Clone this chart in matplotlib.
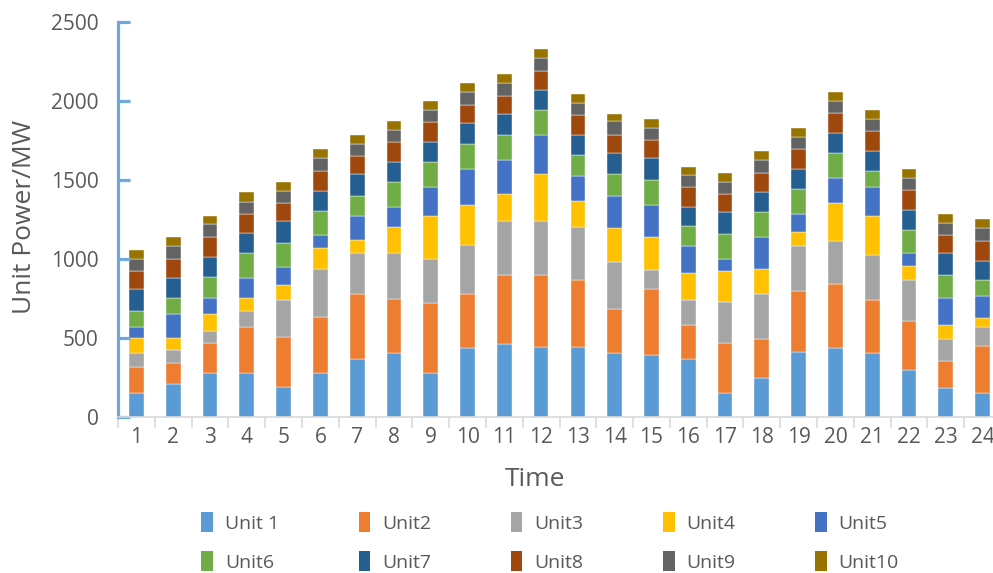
"""Hourly unit dispatch, stacked by generating unit."""

import matplotlib
matplotlib.use("Agg")
import matplotlib.pyplot as plt
from matplotlib.patches import Patch
import numpy as np

hours = list(range(1, 25))
units = ["Unit 1", "Unit2", "Unit3", "Unit4", "Unit5",
         "Unit6", "Unit7", "Unit8", "Unit9", "Unit10"]
colors = ["#5B9BD5", "#ED7D31", "#A5A5A5", "#FFC000", "#4472C4",
          "#70AD47", "#255E91", "#9E480E", "#636363", "#997300"]

# MW per unit for each hour 1..24
unit1 = [154, 209, 276, 276, 188, 276, 367, 403, 276, 435, 460, 445,
         445, 403, 390, 367, 154, 245, 414, 435, 403, 300, 186, 152]
unit2 = [160, 135, 194, 296, 316, 355, 409, 342, 444, 341, 439, 454,
         422, 283, 418, 217, 316, 249, 386, 409, 340, 305, 171, 295]
unit3 = [89, 80, 76, 101, 236, 304, 260, 291, 282, 315, 342, 342,
         338, 293, 124, 159, 260, 282, 280, 272, 282, 262, 134, 125]
unit4 = [99, 78, 104, 78, 95, 135, 82, 169, 272, 251, 170, 295,
         160, 215, 205, 168, 192, 161, 93, 238, 249, 91, 91, 57]
unit5 = [68, 148, 101, 127, 112, 80, 156, 126, 184, 228, 214, 249,
         160, 205, 205, 171, 80, 202, 114, 159, 182, 78, 171, 135]
unit6 = [103, 101, 137, 158, 156, 156, 125, 158, 158, 158, 160, 160,
         133, 137, 160, 125, 158, 158, 158, 158, 101, 148, 146, 101]
unit7 = [135, 127, 127, 127, 137, 126, 137, 127, 123, 133, 135, 125,
         127, 135, 135, 124, 137, 125, 125, 124, 126, 126, 137, 124]
unit8 = [116, 124, 122, 122, 114, 125, 114, 125, 126, 116, 114, 122,
         124, 114, 114, 125, 114, 124, 124, 127, 125, 125, 114, 127]
unit9 = [76, 80, 83, 78, 76, 80, 76, 77, 78, 78, 78, 78,
         78, 88, 78, 78, 78, 79, 80, 78, 78, 78, 80, 78]
unit10 = [57, 59, 54, 59, 59, 57, 59, 57, 57, 59, 59, 59,
          57, 47, 57, 48, 57, 58, 57, 57, 57, 57, 57, 57]

series = [unit1, unit2, unit3, unit4, unit5,
          unit6, unit7, unit8, unit9, unit10]

plt.rcParams["font.family"] = ["Open Sans", "DejaVu Sans"]
text_color = "#595959"
axis_blue = "#6FA8DC"
axis_gray = "#D9D9D9"

fig = plt.figure(figsize=(9.93, 5.73), dpi=100)
ax = fig.add_axes([118 / 993, 156 / 573, 883 / 993, 395 / 573])

bottom = np.zeros(len(hours))
for name, vals, col in zip(units, series, colors):
    ax.bar(hours, vals, width=0.4, bottom=bottom, color=col,
           edgecolor="white", linewidth=0.3, label=name)
    bottom += np.array(vals)

ax.set_xlim(0.5, 24.5)
ax.set_ylim(0, 2500)
ax.set_yticks(np.arange(0, 2501, 500))
ax.set_xticks(hours)
ax.set_xticks(np.arange(0.5, 25, 1), minor=True)

for side in ("top", "right"):
    ax.spines[side].set_visible(False)
ax.spines["left"].set_color(axis_blue)
ax.spines["left"].set_linewidth(2.3)
ax.spines["bottom"].set_color(axis_gray)
ax.spines["bottom"].set_linewidth(1.2)

ax.tick_params(axis="y", direction="in", length=8.5, width=2.3,
               color=axis_blue, labelsize=15, labelcolor=text_color, pad=14)
ax.tick_params(axis="x", which="major", length=0, labelsize=15,
               labelcolor=text_color, pad=7)
ax.tick_params(axis="x", which="minor", length=8, width=1.2,
               color=axis_gray)

fig.text(25 / 993, 1 - 217 / 573, "Unit Power/MW", rotation=90,
         ha="center", va="center", fontsize=19, color=text_color)
fig.text(535 / 993, 1 - 480 / 573, "Time", ha="center", va="center",
         fontsize=19, color=text_color)

# legend reads row by row, matplotlib fills column by column
order = [0, 5, 1, 6, 2, 7, 3, 8, 4, 9]
handles = [Patch(facecolor=colors[i], label=units[i]) for i in order]
fig.legend(handles=handles, ncol=5, loc="center",
           bbox_to_anchor=(550 / 993, 1 - 542 / 573), frameon=False,
           fontsize=14, labelcolor=text_color, handlelength=0.6,
           handleheight=1.2, handletextpad=0.6, columnspacing=4.1,
           labelspacing=0.95)

fig.savefig("out.png", dpi=100)
